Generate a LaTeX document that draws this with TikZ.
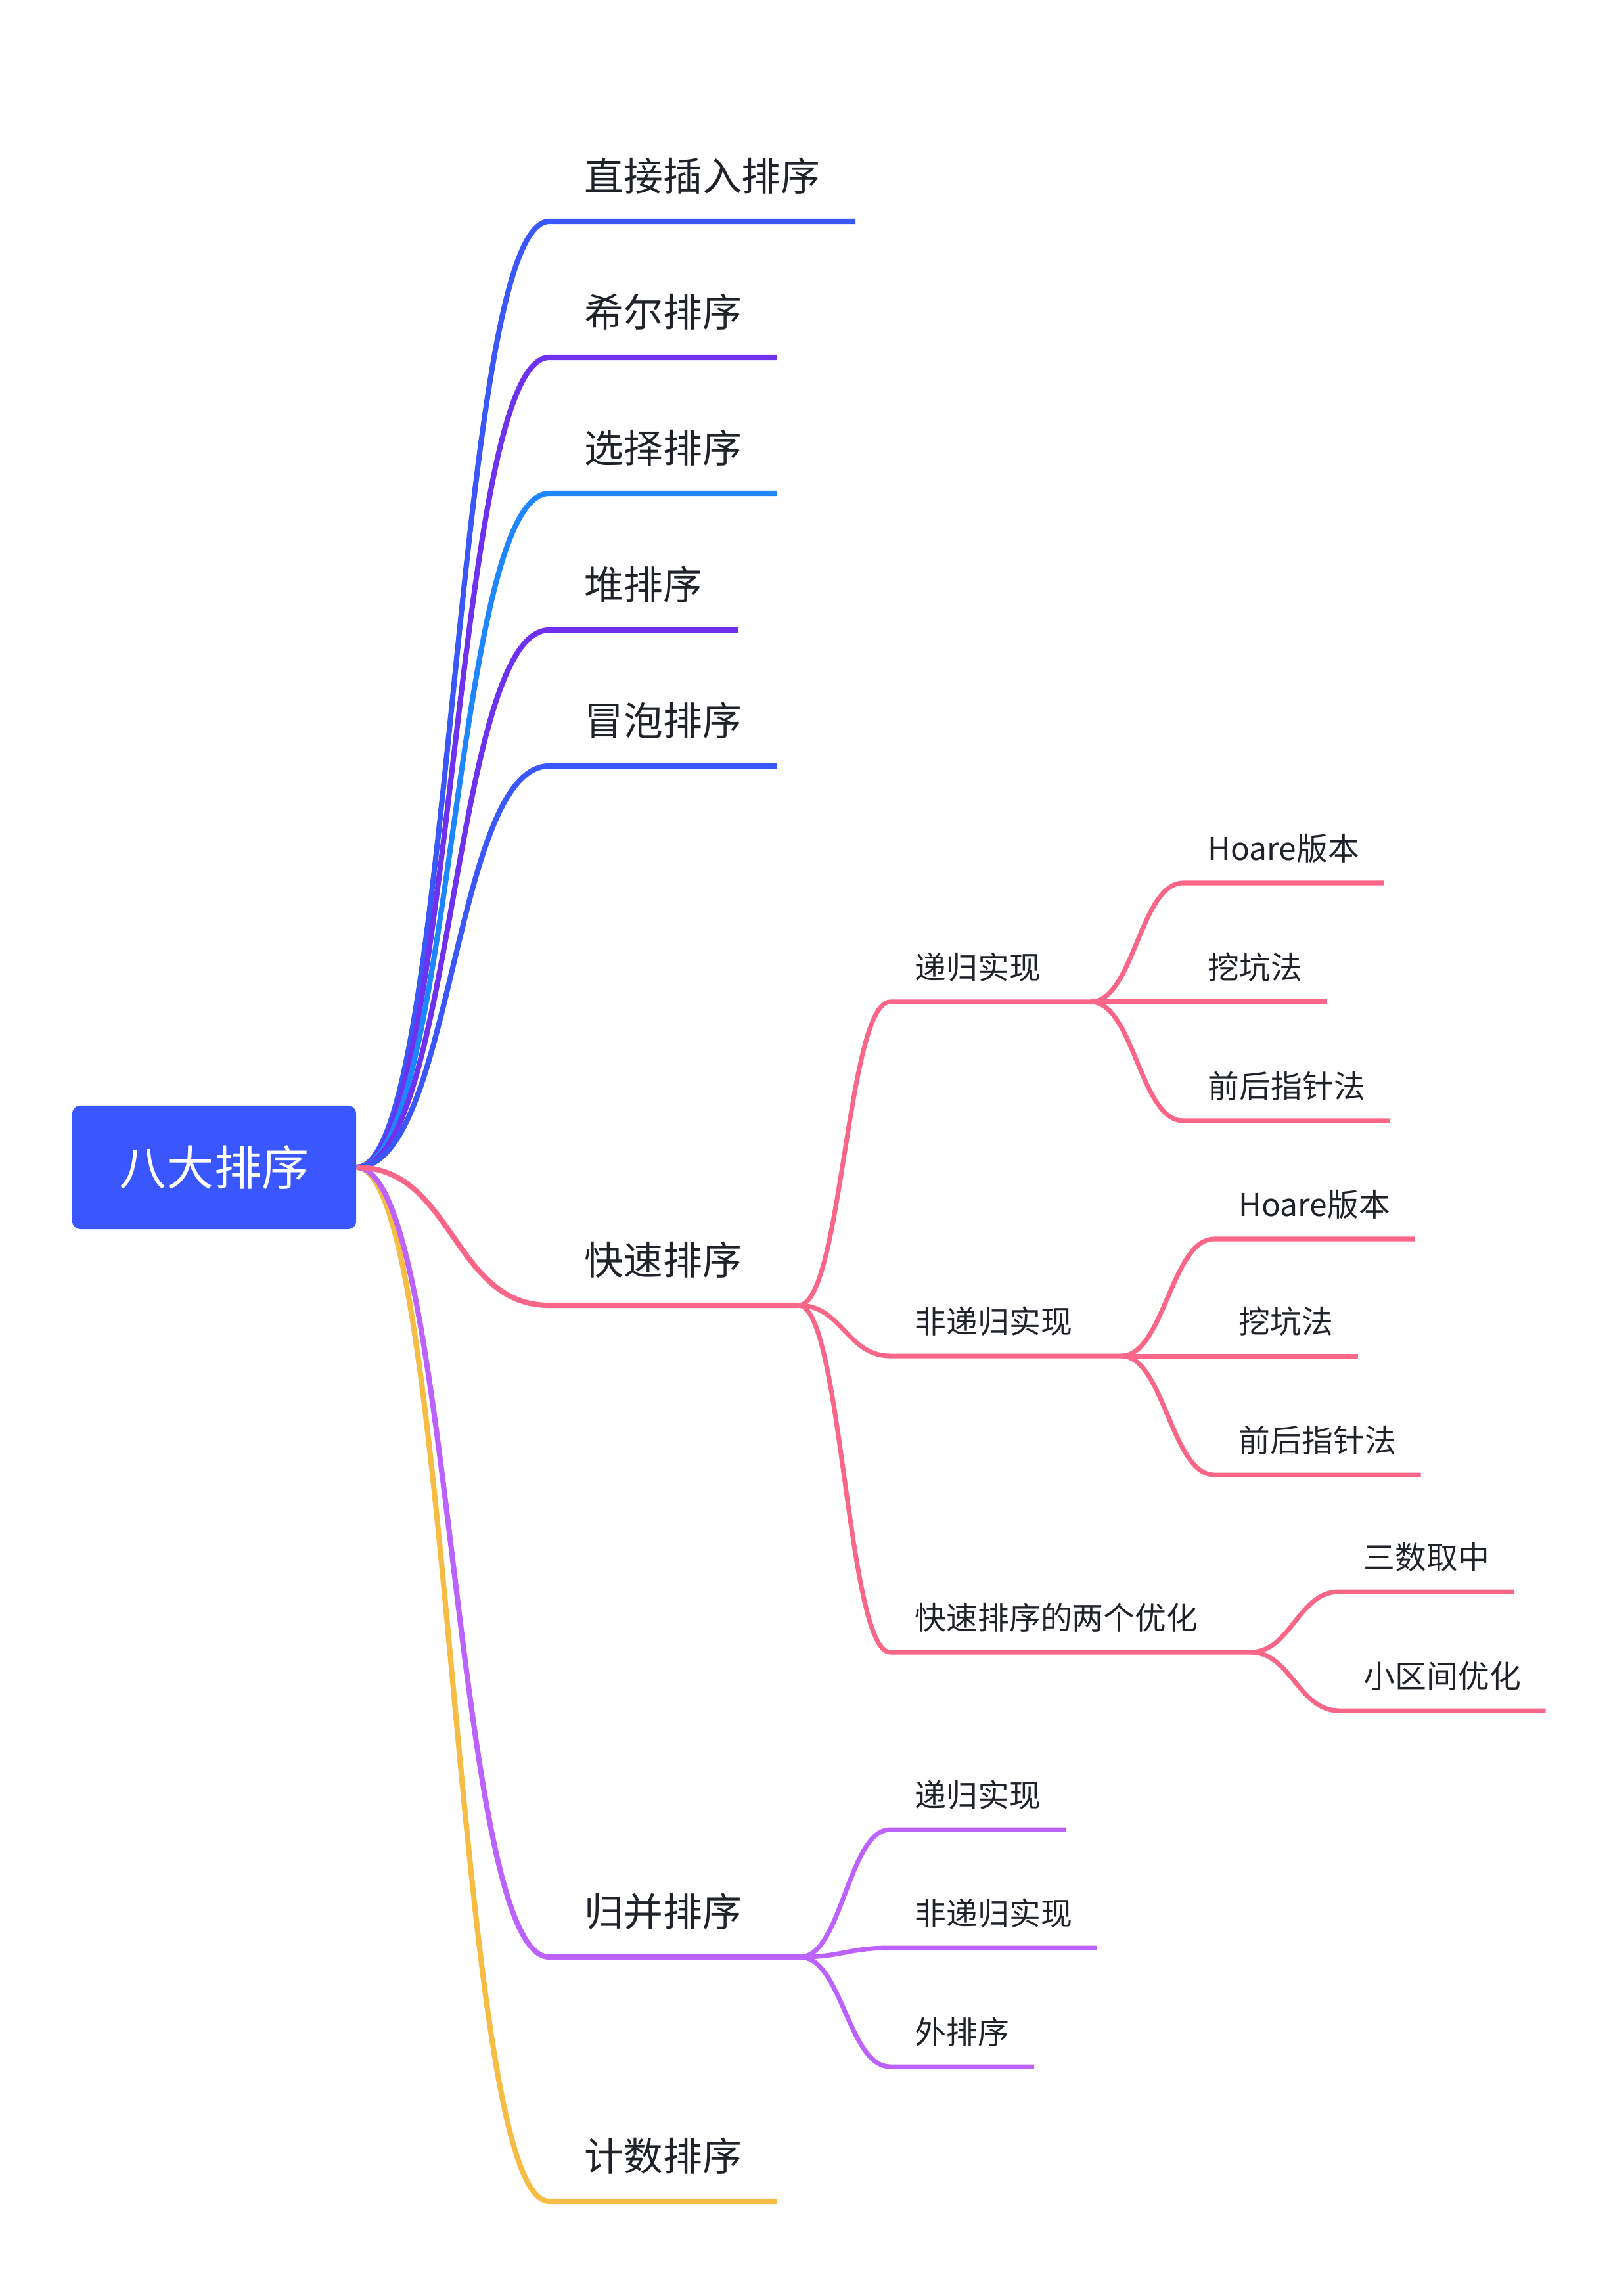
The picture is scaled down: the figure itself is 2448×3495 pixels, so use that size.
\documentclass[tikz,border=0pt]{standalone}
\usepackage{fontspec}
\usepackage{xcolor}
\usepackage{tikz}
\usetikzlibrary{positioning, calc}
\newfontfamily\cjk{Noto Sans CJK SC}
\definecolor{cRacine}{HTML}{3A57FF}
\definecolor{cBleu}{HTML}{3A58FA}
\definecolor{cViolet}{HTML}{6E32EE}
\definecolor{cCiel}{HTML}{1E86FF}
\definecolor{cRose}{HTML}{FA6688}
\definecolor{cMauve}{HTML}{BC62FF}
\definecolor{cJaune}{HTML}{F6BC44}
\definecolor{cTexte}{HTML}{1F2329}

\begin{document}
\begin{tikzpicture}[x=0.01cm, y=-0.01cm,
        racine/.style={fill=cRacine, rounded corners=0.12cm, minimum width=4.32cm, minimum height=1.88cm, text=white, font=\cjk\fontsize{20.5}{24}\selectfont},
        niv1/.style={anchor=south west, inner xsep=0.53cm, inner ysep=0.46cm, text depth=0pt, text=cTexte, font=\cjk\fontsize{17}{20}\selectfont},
        niv2/.style={anchor=south west, inner xsep=0.37cm, inner ysep=0.34cm, text depth=0pt, text=cTexte, font=\cjk\fontsize{13.6}{16}\selectfont},
        trait1/.style={line width=2.3pt, line join=round},
        trait2/.style={line width=2pt, line join=round, cRose}]
        \useasboundingbox (0,0) rectangle (2448,3495);

        % Racine
        \node[racine] (racine) at (326,1777) {八大排序};

        % Branches principales
        \node[niv1] (insert) at (836,337) {直接插入排序};
        \node[niv1] (shell) at (836,544) {希尔排序};
        \node[niv1] (select) at (836,751) {选择排序};
        \node[niv1] (heap) at (836,959) {堆排序};
        \node[niv1] (bubble) at (836,1166) {冒泡排序};
        \node[niv1] (quick) at (836,1987) {快速排序};
        \node[niv1] (merge) at (836,2979) {归并排序};
        \node[niv1] (count) at (836,3351) {计数排序};
        \coordinate (quickj) at ([xshift=3.3mm]quick.south east);
        \coordinate (mergej) at ([xshift=3.5mm]merge.south east);

        \draw[trait1, cBleu] (racine.east) .. controls +(147,0) and +(-147,0) .. (insert.south west) -- (insert.south east);
        \draw[trait1, cViolet] (racine.east) .. controls +(147,0) and +(-147,0) .. (shell.south west) -- (shell.south east);
        \draw[trait1, cCiel] (racine.east) .. controls +(147,0) and +(-147,0) .. (select.south west) -- (select.south east);
        \draw[trait1, cViolet] (racine.east) .. controls +(147,0) and +(-147,0) .. (heap.south west) -- (heap.south east);
        \draw[trait1, cBleu] (racine.east) .. controls +(147,0) and +(-147,0) .. (bubble.south west) -- (bubble.south east);
        \draw[trait1, cJaune] (racine.east) .. controls +(147,0) and +(-147,0) .. (count.south west) -- (count.south east);
        \draw[trait1, cMauve] (racine.east) .. controls +(147,0) and +(-147,0) .. (merge.south west) -- (mergej);
        \draw[trait1, cRose] (racine.east) .. controls +(147,0) and +(-147,0) .. (quick.south west) -- (quickj);

        % Tri rapide
        \node[niv2] (rec) at (1355,1525) {递归实现};
        \node[niv2] (nrec) at (1355,2064) {非递归实现};
        \node[niv2] (opt) at (1355,2515) {快速排序的两个优化};
        \coordinate (recj) at ([xshift=3.8mm]rec.south east);
        \coordinate (nrecj) at ([xshift=3.7mm]nrec.south east);
        \coordinate (optj) at ([xshift=4.2mm]opt.south east);

        \draw[trait2] (quickj) .. controls +(66,0) and +(-66,0) .. (rec.south west) -- (recj);
        \draw[trait2] (quickj) .. controls +(66,0) and +(-66,0) .. (nrec.south west) -- (nrecj);
        \draw[trait2] (quickj) .. controls +(66,0) and +(-66,0) .. (opt.south west) -- (optj);

        \node[niv2] (rhoare) at (1801,1344) {Hoare版本};
        \node[niv2] (rfosse) at (1801,1525) {挖坑法};
        \node[niv2] (rptr) at (1801,1706) {前后指针法};
        \draw[trait2] (recj) .. controls +(66,0) and +(-66,0) .. (rhoare.south west) -- (rhoare.south east);
        \draw[trait2] (recj) -- (rfosse.south east);
        \draw[trait2] (recj) .. controls +(66,0) and +(-66,0) .. (rptr.south west) -- (rptr.south east);

        \node[niv2] (nhoare) at (1848,1886) {Hoare版本};
        \node[niv2] (nfosse) at (1848,2064) {挖坑法};
        \node[niv2] (nptr) at (1848,2245) {前后指针法};
        \draw[trait2] (nrecj) .. controls +(65,0) and +(-65,0) .. (nhoare.south west) -- (nhoare.south east);
        \draw[trait2] (nrecj) -- (nfosse.south east);
        \draw[trait2] (nrecj) .. controls +(65,0) and +(-65,0) .. (nptr.south west) -- (nptr.south east);

        \node[niv2] (median) at (2038,2423) {三数取中};
        \node[niv2] (petit) at (2038,2604) {小区间优化};
        \draw[trait2] (optj) .. controls +(62,0) and +(-62,0) .. (median.south west) -- (median.south east);
        \draw[trait2] (optj) .. controls +(62,0) and +(-62,0) .. (petit.south west) -- (petit.south east);

        % Tri fusion
        \node[niv2] (mrec) at (1355,2785) {递归实现};
        \node[niv2] (mnrec) at (1355,2965) {非递归实现};
        \node[niv2] (mext) at (1355,3146) {外排序};
        \draw[trait2, cMauve] (mergej) .. controls +(64,0) and +(-64,0) .. (mrec.south west) -- (mrec.south east);
        \draw[trait2, cMauve] (mergej) .. controls +(64,0) and +(-64,0) .. (mnrec.south west) -- (mnrec.south east);
        \draw[trait2, cMauve] (mergej) .. controls +(64,0) and +(-64,0) .. (mext.south west) -- (mext.south east);
    \end{tikzpicture}
\end{document}
